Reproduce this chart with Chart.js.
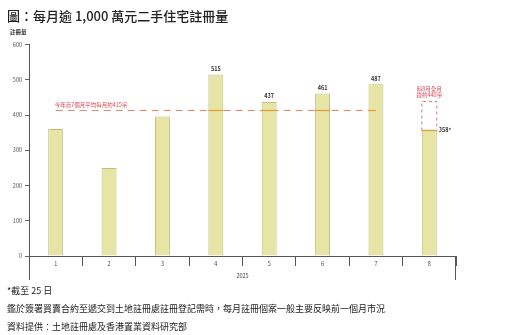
<!DOCTYPE html>
<html lang="zh-Hant">
<head>
<meta charset="utf-8">
<script src="https://cdn.jsdelivr.net/npm/chart.js@4.4.1/dist/chart.umd.min.js"></script>
<style>
  html, body { margin: 0; padding: 0; background: #fff; }
  #wrap { position: relative; width: 512px; height: 335px; overflow: hidden;
          font-family: "Noto Sans CJK TC", "Noto Sans", sans-serif; color: #222; }
  #chart { position: absolute; left: 0; top: 0; }
  .txt { position: absolute; white-space: nowrap; line-height: 1; }
  #title { left: 7px; top: 9px; font-size: 13px; font-weight: 500; color: #222; }
  #ytitle { left: 10px; top: 30px; font-size: 5.5px; font-weight: bold; color: #333; }
  .foot { left: 7px; font-size: 9px; color: #222; }
</style>
</head>
<body>
<div id="wrap">
  <canvas id="chart" width="512" height="335"></canvas>
  <div id="title" class="txt">圖：每月逾 1,000 萬元二手住宅註冊量</div>
  <div id="ytitle" class="txt">註冊量</div>
  <div class="txt foot" style="top:286px">*截至 25 日</div>
  <div class="txt foot" style="top:304px">鑑於簽署買賣合約至遞交到土地註冊處註冊登記需時，每月註冊個案一般主要反映前一個月市況</div>
  <div class="txt foot" style="top:322px">資料提供：土地註冊處及香港置業資料研究部</div>
</div>
<script>
// Monthly registrations of second-hand homes above HK$10M, 2025
const months = ['1', '2', '3', '4', '5', '6', '7', '8'];
const registrations = [360, 250, 396, 515, 437, 461, 487, 358];
// Months whose value is printed above the bar
const labelledMonths = ['4', '5', '6', '7'];
const yearLabel = '2025';
// Average of the first seven months
const avgValue = 415;
const avgLabel = '今年首7個月平均每月約415宗';
const avgFrom = '1', avgTo = '7';
// Partial month and its full-month projection
const partialMonth = '8';
const partialSuffix = '*';
const projectedValue = 440;
const projectedLabel = ['料8月全月', '錄約440宗'];
const yTicks = { min: 0, max: 600, step: 100 };

const FONT = '"Noto Sans CJK TC", "Noto Sans", sans-serif';

const annotations = {
  id: 'annotations',
  afterDatasetsDraw(chart) {
    const { ctx, scales: { x, y } } = chart;
    const meta = chart.getDatasetMeta(0);
    ctx.save();

    // Longer outer ticks at both ends of the category axis
    ctx.strokeStyle = '#555';
    ctx.lineWidth = 1;
    ctx.beginPath();
    const left = Math.round(x.left) + 0.5, right = Math.round(x.right) - 0.5;
    ctx.moveTo(left, y.bottom); ctx.lineTo(left, y.bottom + 24);
    ctx.moveTo(right, y.bottom); ctx.lineTo(right, y.bottom + 24);
    ctx.stroke();

    // Year label under the months
    ctx.fillStyle = '#444';
    ctx.font = '5.5px ' + FONT;
    ctx.textAlign = 'center';
    ctx.textBaseline = 'middle';
    ctx.fillText(yearLabel, (x.left + x.right) / 2, y.bottom + 20);

    // Value labels above selected bars
    ctx.fillStyle = '#333';
    ctx.font = 'bold 5.5px ' + FONT;
    ctx.textBaseline = 'bottom';
    labelledMonths.forEach(m => {
      const i = months.indexOf(m);
      const bar = meta.data[i];
      ctx.fillText(String(registrations[i]), bar.x, bar.y - 3);
    });

    // Average dashed line
    const ay = Math.round(y.getPixelForValue(avgValue)) + 0.5;
    const ax0 = x.getPixelForValue(months.indexOf(avgFrom));
    const ax1 = x.getPixelForValue(months.indexOf(avgTo));
    ctx.strokeStyle = '#e8866a';
    ctx.lineWidth = 1.2;
    ctx.setLineDash([7, 5]);
    ctx.beginPath();
    ctx.moveTo(ax0, ay); ctx.lineTo(ax1, ay);
    ctx.stroke();
    ctx.setLineDash([]);
    // Solid where it crosses taller bars
    ctx.strokeStyle = '#e69a34';
    meta.data.forEach((bar, i) => {
      if (registrations[i] <= avgValue) return;
      const hw = bar.width / 2;
      const s = Math.max(bar.x - hw, ax0), e = Math.min(bar.x + hw, ax1);
      if (e <= s) return;
      ctx.beginPath(); ctx.moveTo(s, ay); ctx.lineTo(e, ay); ctx.stroke();
    });
    ctx.fillStyle = '#d9434f';
    ctx.font = '5.5px ' + FONT;
    ctx.textAlign = 'left';
    ctx.textBaseline = 'bottom';
    ctx.fillText(avgLabel, ax0 - 1, ay - 3);

    // Partial month: orange top edge, projection box and notes
    const pi = months.indexOf(partialMonth);
    const pb = meta.data[pi];
    const hw = pb.width / 2;
    const py = Math.round(pb.y) + 0.5;
    ctx.strokeStyle = '#e69a34';
    ctx.lineWidth = 1.2;
    ctx.beginPath(); ctx.moveTo(pb.x - hw, py); ctx.lineTo(pb.x + hw, py); ctx.stroke();

    const qy = Math.round(y.getPixelForValue(projectedValue)) + 0.5;
    ctx.strokeStyle = '#e07080';
    ctx.lineWidth = 1;
    ctx.setLineDash([3, 3]);
    ctx.beginPath();
    ctx.moveTo(pb.x - hw, py); ctx.lineTo(pb.x - hw, qy);
    ctx.lineTo(pb.x + hw, qy); ctx.lineTo(pb.x + hw, py);
    ctx.stroke();
    ctx.setLineDash([]);

    ctx.fillStyle = '#d9434f';
    ctx.textAlign = 'center';
    ctx.textBaseline = 'middle';
    ctx.fillText(projectedLabel[0], pb.x, qy - 13);
    ctx.fillText(projectedLabel[1], pb.x, qy - 6.5);

    ctx.fillStyle = '#333';
    ctx.font = 'bold 5.5px ' + FONT;
    ctx.textAlign = 'left';
    ctx.fillText(registrations[pi] + partialSuffix, pb.x + hw + 2, pb.y);

    ctx.restore();
  }
};

new Chart(document.getElementById('chart'), {
  type: 'bar',
  data: {
    labels: months,
    datasets: [{
      data: registrations,
      backgroundColor: '#e7e5a6',
      borderColor: '#c2bf78',
      borderWidth: 1,
      barPercentage: 0.28,
      categoryPercentage: 1
    }]
  },
  options: {
    responsive: false,
    devicePixelRatio: 1,
    animation: false,
    layout: { padding: { left: 0, right: 56, top: 44.5, bottom: 49 } },
    plugins: { legend: { display: false }, tooltip: { enabled: false } },
    scales: {
      x: {
        offset: true,
        grid: { display: true, drawOnChartArea: false, offset: true, tickLength: 10, color: '#555' },
        border: { display: true, color: '#555' },
        ticks: { color: '#444', font: { size: 5.5, family: FONT }, padding: -5 },
        afterFit: s => { s.height = 30; }
      },
      y: {
        min: yTicks.min, max: yTicks.max,
        grid: { display: true, drawOnChartArea: false, tickLength: 4, color: '#666' },
        border: { display: true, color: '#555' },
        ticks: { stepSize: yTicks.step, color: '#555', font: { size: 5.5, family: FONT }, padding: 3 },
        afterFit: s => { s.width = 29; }
      }
    }
  },
  plugins: [annotations]
});
</script>
</body>
</html>
